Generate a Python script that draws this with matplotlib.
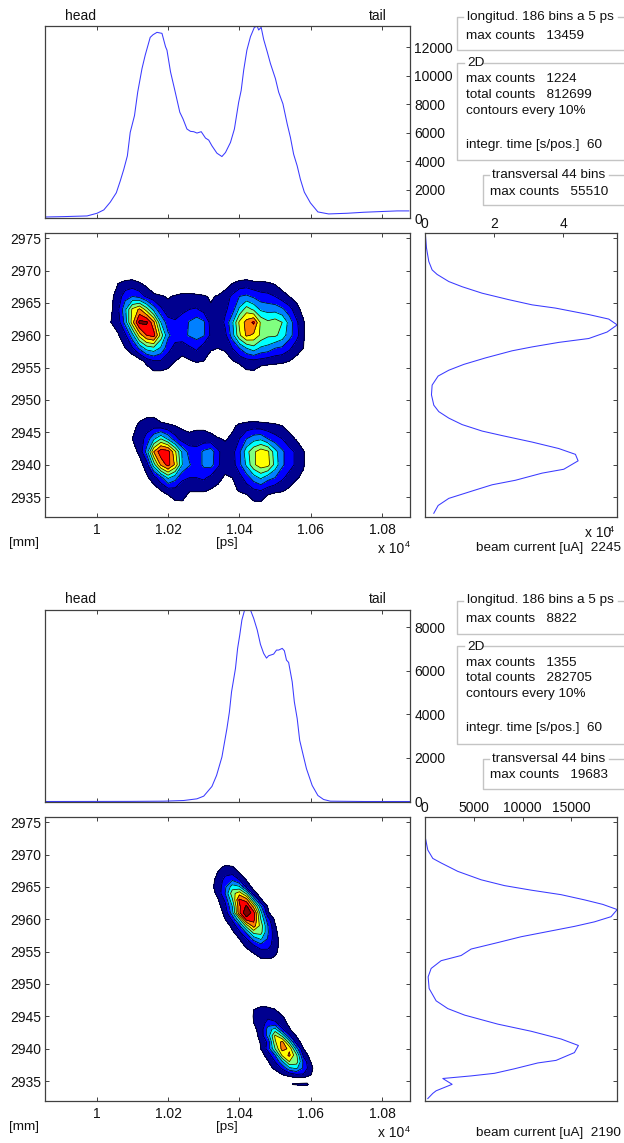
import matplotlib
matplotlib.use("Agg")
import matplotlib.pyplot as plt
import numpy as np
from matplotlib.lines import Line2D

plt.rcParams['font.family'] = ['Liberation Sans', 'DejaVu Sans']
W, H = 624, 1143

# ---------- longitudinal profiles ----------
long_x_a = [9859,9907,9973,10001,10020,10038,10055,10066,10076,10086,10094,10106,10115,10127,10136,10150,10158,10169,10183,10193,10197,10207,10218,10233,10242,10253,10263,10272,10281,10293,10305,10314,10323,10337,10351,10361,10375,10386,10398,10405,10412,10421,10431,10442,10450,10454,10461,10468,10478,10487,10501,10510,10522,10534,10543,10552,10562,10571,10582,10599,10620,10650,10702,10749,10795,10842,10875]
long_y_a = [94,118,165,353,588,1129,1788,2612,3435,4376,6023,7200,8847,10494,11435,12682,12870,13035,12965,12024,11788,10259,9082,7435,6965,6259,6094,6071,5976,6071,5624,5482,5082,4565,4329,4612,5318,6259,8141,8965,10376,11788,12729,13388,13459,13200,13388,12541,11671,10847,9788,8847,8024,6612,5671,4494,3671,2729,1835,1082,447,306,353,424,471,518,518]
long_x_b = [9859,10094,10188,10244,10281,10300,10323,10336,10351,10365,10372,10378,10389,10395,10401,10407,10415,10422,10431,10440,10450,10459,10468,10476,10482,10496,10504,10510,10520,10526,10532,10538,10548,10554,10562,10569,10579,10588,10604,10620,10636,10655,10749,10877]
long_y_b = [0,5,15,46,123,246,691,1198,2043,3348,4116,5038,6113,7035,7649,8340,8822,8785,8800,8417,7880,7219,6804,6589,6697,6774,6958,6958,7035,6927,6497,6390,5498,4577,3809,2811,2119,1505,737,276,92,15,0,0]

# ---------- transversal profiles ----------
trans_y_a = [2975.4,2973.5,2971.4,2970.1,2969.4,2968.3,2967.5,2966.5,2965.5,2964.7,2964.2,2963.2,2962.5,2961.6,2960.5,2959.5,2958.9,2958.2,2957.6,2956.5,2955.5,2954.6,2953.7,2952.3,2950.8,2949.2,2948.2,2947.2,2946.2,2945.2,2944.5,2943.5,2942.5,2941.6,2940.6,2939.3,2938.7,2937.6,2936.9,2936.1,2934.8,2933.7,2932.5]
trans_x_a = [192,481,1154,2115,3558,6923,10769,16538,24230,30960,37690,47306,53075,55510,52594,47306,38652,30960,25191,17499,11250,6923,3846,2115,1923,2596,4038,6923,10769,16538,22307,30960,38652,43460,44229,40095,33845,26153,19422,14615,6923,3846,2596]
trans_y_b = [2975.2,2972.5,2970.7,2969.4,2968.7,2967.4,2966.1,2965.2,2964.5,2963.8,2963,2962.3,2961.5,2960.4,2959.6,2958.9,2958.1,2957.3,2956.4,2955.4,2954.4,2953.6,2952.4,2951.1,2949.3,2947.4,2946.2,2945.2,2943.8,2942.7,2941.5,2940.5,2939.4,2938.2,2937.8,2936.9,2936.2,2935.8,2935.4,2934.5,2933.5,2933.1,2932.3]
trans_x_b = [0,68,307,818,1670,3375,5761,8148,10875,13943,16329,18204,19683,19056,17352,15306,12579,9852,7466,4739,3716,1670,648,341,443,1159,2352,4057,7466,10875,13943,15715,15306,13432,11557,9170,7125,4739,1841,2795,1159,818,307]

# ---------- 2D maps (percent of max) ----------
a_top_x = list(range(10020, 10601, 20))
a_top_y = [2970,2968,2966,2964,2962,2960,2958,2956,2954,2952]
a_top_z = [
 [0]*30,
 [0,0,10,13,14,11,7,0,0,0, 0,0,0,0,0,0,0,5,10,13, 14,12,12,11,9,5,0,0,0,0],
 [0,8,14,26,30,26,18,13,11,9, 11,13,13,12,11,9,11,15,22,30, 32,28,24,23,20,14,10,6,0,0],
 [0,8,18,38,62,72,55,36,22,14, 12,18,20,21,16,11,10,18,25,42, 55,48,38,36,36,32,24,14,6,0],
 [0,10,15,34,66,93,92,72,40,24, 22,24,31,36,32,16,12,22,38,62, 74,82,58,52,55,50,36,22,11,0],
 [0,0,9,18,36,64,80,84,56,32, 25,27,31,34,31,18,14,17,35,58, 72,68,58,52,52,46,34,24,11,0],
 [0,0,0,10,19,32,44,47,38,24, 16,13,18,22,14,11,10,12,20,30, 40,46,38,36,30,28,22,14,10,0],
 [0,0,0,0,0,5,14,19,19,14, 10,8,9,11,10,6,0,4,9,13, 16,17,16,14,13,12,10,7,0,0],
 [0,0,0,0,0,0,0,7,7,7, 0,0,0,0,0,0,0,0,0,0, 7,7,0,0,0,0,0,0,0,0],
 [0]*30,
]
a_bot_x = list(range(10080, 10601, 20))
a_bot_y = [2948,2946,2944,2942,2940,2938,2936,2934,2932]
a_bot_z = [
 [0,0,6,7,7,0,0,0,0,0, 0,0,0,0,0,0,0,0,0,0, 0,0,0,0,0,0,0],
 [0,7,12,15,16,14,12,10,8,7, 8,8,6,0,0,8,12,14,15,14, 13,12,10,7,0,0,0],
 [0,10,14,24,38,50,38,24,15,13, 14,14,13,11,9,12,20,30,36,38, 30,24,20,13,9,0,0],
 [0,6,12,34,70,87,85,62,38,26, 24,32,36,22,14,16,28,46,58,66, 62,44,32,24,18,11,0],
 [0,0,6,15,45,72,84,68,40,31, 24,32,34,22,13,15,27,42,58,66, 64,46,32,24,18,11,0],
 [0,0,0,8,16,27,42,34,22,20, 20,22,17,12,9,10,16,25,35,42, 34,30,22,16,11,8,0],
 [0,0,0,0,4,10,15,16,14,11, 11,11,9,8,6,7,11,14,18,20, 15,12,11,8,4,0,0],
 [0,0,0,0,0,0,0,8,9,0, 0,0,0,0,0,0,0,0,8,8, 0,0,0,0,0,0,0],
 [0]*27,
]
b_top_x = list(range(10320, 10521, 20))
b_top_y = list(range(2969, 2952, -1))
b_top_z = [
 [0,0,5,6,0,0,0,0,0,0,0],
 [0,8,12,11,6,0,0,0,0,0,0],
 [4,11,18,19,11,5,0,0,0,0,0],
 [7,13,24,30,21,10,3,0,0,0,0],
 [8,13,28,45,42,17,6,0,0,0,0],
 [5,13,30,56,66,48,15,5,0,0,0],
 [0,9,22,48,82,75,40,11,5,0,0],
 [0,6,17,40,78,92,66,32,9,0,0],
 [0,4,13,36,78,100,84,44,12,0,0],
 [0,0,10,22,48,84,84,50,24,8,0],
 [0,0,4,13,28,55,75,56,30,11,0],
 [0,0,0,8,18,32,54,54,31,13,3],
 [0,0,0,0,10,20,34,42,29,14,5],
 [0,0,0,0,5,13,20,27,25,14,5],
 [0,0,0,0,0,6,12,16,17,12,6],
 [0,0,0,0,0,0,4,10,11,9,0],
 [0]*11,
]
b_bot_x = list(range(10420, 10621, 20))
b_bot_y = list(range(2947, 2934, -1))
b_bot_z = [
 [0,0,6,6,0,0,0,0,0,0,0],
 [0,10,14,13,11,0,0,0,0,0,0],
 [0,11,15,17,14,11,4,0,0,0,0],
 [0,10,14,24,22,13,8,0,0,0,0],
 [0,8,13,35,44,22,11,4,0,0,0],
 [0,6,13,34,62,48,22,9,0,0,0],
 [0,3,11,22,58,74,46,16,5,0,0],
 [0,0,10,24,50,74,68,35,10,0,0],
 [0,0,6,14,30,62,72,52,17,5,0],
 [0,0,0,9,20,38,60,55,27,10,0],
 [0,0,0,5,13,22,38,42,28,13,3],
 [0,0,0,0,2,10,14,19,19,11,0],
 [0]*11,
]
b_blob_x = [10530,10550,10570,10590,10600]
b_blob_y = [2935.2,2934.5,2933.9]
b_blob_z = [[0,0,0,0,0],[0,11,13,14,0],[0,0,0,0,0]]

# ---------- axes scales and labels ----------
x_ticks = [10000,10200,10400,10600,10800]
x_tick_labels = ['1','1.02','1.04','1.06','1.08']
y_ticks = [2935,2940,2945,2950,2955,2960,2965,2970,2975]
long_ticks_a = [0,2000,4000,6000,8000,10000,12000]
long_ticks_b = [0,2000,4000,6000,8000]
trans_ticks_a = [0,20000,40000]
trans_tick_labels_a = ['0','2','4']
trans_ticks_b = [0,5000,10000,15000]
trans_tick_labels_b = ['0','5000','10000','15000']
levels = [10,20,30,40,50,60,70,80,90,101]
band_colors = ['#00008f','#0000ff','#0080ff','#00ffff','#80ff80','#ffff00','#ff8000','#ff0000','#800000']

AXC = '#404040'
TXT = '#111111'
LINE = '#3a3aff'
BOX = '#c4c4c4'

fig = plt.figure(figsize=(W/100, H/100), dpi=100)

def add_ax(l, t, r, b):
    ax = fig.add_axes([l/W, 1-b/H, (r-l)/W, (b-t)/H])
    for s in ax.spines.values():
        s.set_color(AXC); s.set_linewidth(0.9)
    ax.tick_params(direction='in', length=2.8, width=0.7, color=AXC, labelcolor=TXT, labelsize=10,
                   top=True, right=True, bottom=True, left=True, pad=3)
    return ax

def T(x, y, s, size=9.7, **kw):
    kw.setdefault('va', 'center')
    fig.text(x/W, 1-y/H, s, fontsize=size, color=TXT, **kw)

def L(xs, ys):
    fig.add_artist(Line2D([v/W for v in xs], [1-v/H for v in ys], color=BOX, lw=1.0, transform=fig.transFigure))

def maps(ax, blocks):
    for bx, by, bz in blocks:
        ax.contourf(bx, by, np.array(bz, float), levels=levels, colors=band_colors)
        ax.contour(bx, by, np.array(bz, float), levels=levels[:-1], colors='k', linewidths=0.5)

def panel(off, prof, top_y, top_ticks, blocks, tx, ty, tmax, tticks, tlabels, tb_off, texts, texp, ymax, beam):
    # longitudinal
    ax = add_ax(45.3, top_y, 410.3, top_y+192)
    ax.plot(prof[0], prof[1], color=LINE, lw=0.75)
    ax.set_xlim(9856, 10879); ax.set_ylim(0, ymax)
    ax.set_xticks(x_ticks); ax.set_xticklabels([])
    ax.set_yticks(top_ticks)
    ax.tick_params(axis='y', left=False, labelleft=False, labelright=True)
    # 2D
    mt = 233 + off
    ax = add_ax(45.3, mt, 410.3, mt+283.5)
    maps(ax, blocks)
    ax.set_xlim(9856, 10879); ax.set_ylim(2932, 2975.8)
    ax.set_xticks(x_ticks); ax.set_xticklabels(x_tick_labels)
    ax.set_yticks(y_ticks)
    ax.tick_params(axis='x', pad=5)
    # transversal
    ax = add_ax(424.8, mt, 617.2, mt+283.5)
    ax.plot(tx, ty, color=LINE, lw=0.75)
    ax.set_xlim(0, tmax); ax.set_ylim(2932, 2975.8)
    ax.set_xticks(tticks); ax.set_xticklabels(tlabels)
    ax.set_yticks(y_ticks)
    ax.tick_params(axis='x', bottom=False, labeltop=True, labelbottom=False, pad=1.5)
    ax.tick_params(axis='y', left=False, labelleft=False)
    # axis notes
    T(65.5, top_y-10.5, 'head', 10)
    T(369, top_y-10.5, 'tail', 10)
    T(9, mt+310, '[mm]', 9.7)
    T(216, mt+310, '[ps]', 9.7)
    T(378, mt+316, 'x 10', 10)
    T(405, mt+312, '4', 6.5)
    if texp:
        T(585, mt+300, 'x 10', 10)
        T(609, mt+296, '4', 6.5)
    T(476, mt+beam, 'beam current [uA]  ' + texts['beam'], 9.7)
    # information frames
    b = tb_off
    L([463,457,457,624],[17+b,17+b,50+b,50+b]); L([618,624],[17+b,17+b])
    T(467, 17+b, 'longitud. 186 bins a 5 ps')
    T(465.5, 36+b, 'max counts   ' + texts['long'])
    L([464,457,457,624],[62.5+b,62.5+b,160+b,160+b]); L([482,624],[62.5+b,62.5+b])
    T(467, 63+b, '2D')
    T(465.5, 79+b, 'max counts   ' + texts['max2d'])
    T(465.5, 94.5+b, 'total counts   ' + texts['total'])
    T(465.5, 111+b, 'contours every 10%')
    T(465.5, 145+b, 'integr. time [s/pos.]  60')
    L([489,483,483,624],[175+b,175+b,205+b,205+b]); L([609,624],[175+b,175+b])
    T(492.5, 175+b, 'transversal 44 bins')
    T(490.5, 192+b, 'max counts   ' + texts['trans'])

panel(0, (long_x_a, long_y_a), 26.3, long_ticks_a,
      [(a_top_x, a_top_y, a_top_z), (a_bot_x, a_bot_y, a_bot_z)],
      trans_x_a, trans_y_a, 55510, trans_ticks_a, trans_tick_labels_a, 0,
      {'long':'13459','max2d':'1224','total':'812699','trans':'55510','beam':'2245'}, True, 13459, 315)
panel(584, (long_x_b, long_y_b), 609.5, long_ticks_b,
      [(b_top_x, b_top_y, b_top_z), (b_bot_x, b_bot_y, b_bot_z), (b_blob_x, b_blob_y, b_blob_z)],
      trans_x_b, trans_y_b, 19683, trans_ticks_b, trans_tick_labels_b, 583.5,
      {'long':'8822','max2d':'1355','total':'282705','trans':'19683','beam':'2190'}, False, 8822, 316)

fig.savefig('out.png', dpi=100)
